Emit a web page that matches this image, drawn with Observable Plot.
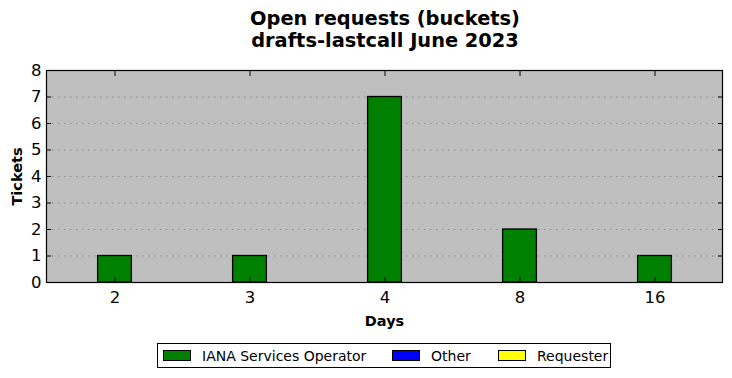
<!DOCTYPE html>
<html>
<head>
<meta charset="utf-8">
<script src="https://cdn.jsdelivr.net/npm/d3@7"></script>
<script src="https://cdn.jsdelivr.net/npm/@observablehq/plot@0.6"></script>
<style>
  body { margin: 0; background: #fff; font-family: "DejaVu Sans", sans-serif; width: 732px; height: 378px; overflow: hidden; }
  #title { height: 62px; text-align: center; font-weight: bold; font-size: 19.4px; line-height: 22px; padding-top: 8px; box-sizing: border-box; padding-left: 38px; }
  #chart svg { display: block; }
  #legend { position: relative; margin-left: 157px; width: 454px; height: 25px; border: 1px solid #000; box-sizing: border-box; font-size: 14px; margin-top: 1px; }
  .item { position: absolute; top: 0; height: 23px; display: flex; align-items: center; white-space: nowrap; }
  .sw { width: 26px; height: 9px; border: 1px solid #000; margin-right: 11px; }
</style>
</head>
<body>
<div id="title">Open requests (buckets)<br>drafts-lastcall June 2023</div>
<div id="chart"></div>
<div id="legend"></div>
<script>
const days = ["2", "3", "4", "8", "16"];
const ianaOperator = [1, 1, 7, 2, 1];
const other = [0, 0, 0, 0, 0];
const requester = [0, 0, 0, 0, 0];
const seriesNames = ["IANA Services Operator", "Other", "Requester"];
const seriesColors = ["#008000", "#0000ff", "#ffff00"];
const yTicks = [0, 1, 2, 3, 4, 5, 6, 7, 8];

const data = days.map((d, i) => ({day: d, value: ianaOperator[i]}));

const chart = Plot.plot({
  width: 732,
  height: 280,
  marginTop: 8,
  marginBottom: 60,
  marginLeft: 46,
  marginRight: 10,
  style: {fontFamily: "DejaVu Sans, sans-serif", fontSize: "16px", color: "#000", background: "transparent"},
  x: {type: "band", domain: days, paddingInner: 0, paddingOuter: 0},
  y: {domain: [0, 8]},
  marks: [
    Plot.frame({fill: "#bfbfbf", stroke: "none"}),
    Plot.gridY(yTicks.filter(t => t > 0 && t < 8), {stroke: "#808080", strokeOpacity: 1, strokeDasharray: "1.5,4.5", strokeWidth: 0.8}),
    Plot.barY(data, {x: "day", y: "value", fill: seriesColors[0], stroke: "#000", strokeWidth: 1.3, insetLeft: 50.6, insetRight: 50.6}),
    Plot.frame({stroke: "#000", strokeWidth: 1.2}),
    Plot.axisY(yTicks, {anchor: "left", tickSize: -5, tickPadding: 10, fontSize: 16.5, label: null}),
    Plot.axisY(yTicks, {anchor: "right", tickSize: -5, tickFormat: () => "", label: null}),
    Plot.axisX(days, {anchor: "bottom", tickSize: -5, tickPadding: 14, fontSize: 16.5, label: null}),
    Plot.axisX(days, {anchor: "top", tickSize: -5, tickFormat: () => "", label: null}),
    Plot.text(["Days"], {frameAnchor: "bottom", dy: 43, fontWeight: "bold", fontSize: 14.5, text: d => d}),
    Plot.text(["Tickets"], {frameAnchor: "left", textAnchor: "middle", dx: -29, rotate: -90, fontWeight: "bold", fontSize: 14.5, text: d => d})
  ]
});
document.getElementById("chart").appendChild(chart);

const legend = document.getElementById("legend");
const lefts = [5, 234, 340];
seriesNames.forEach((name, i) => {
  const item = document.createElement("div");
  item.className = "item";
  item.style.left = lefts[i] + "px";
  const sw = document.createElement("div");
  sw.className = "sw";
  sw.style.background = seriesColors[i];
  const label = document.createElement("span");
  label.textContent = name;
  item.appendChild(sw);
  item.appendChild(label);
  legend.appendChild(item);
});
</script>
</body>
</html>
